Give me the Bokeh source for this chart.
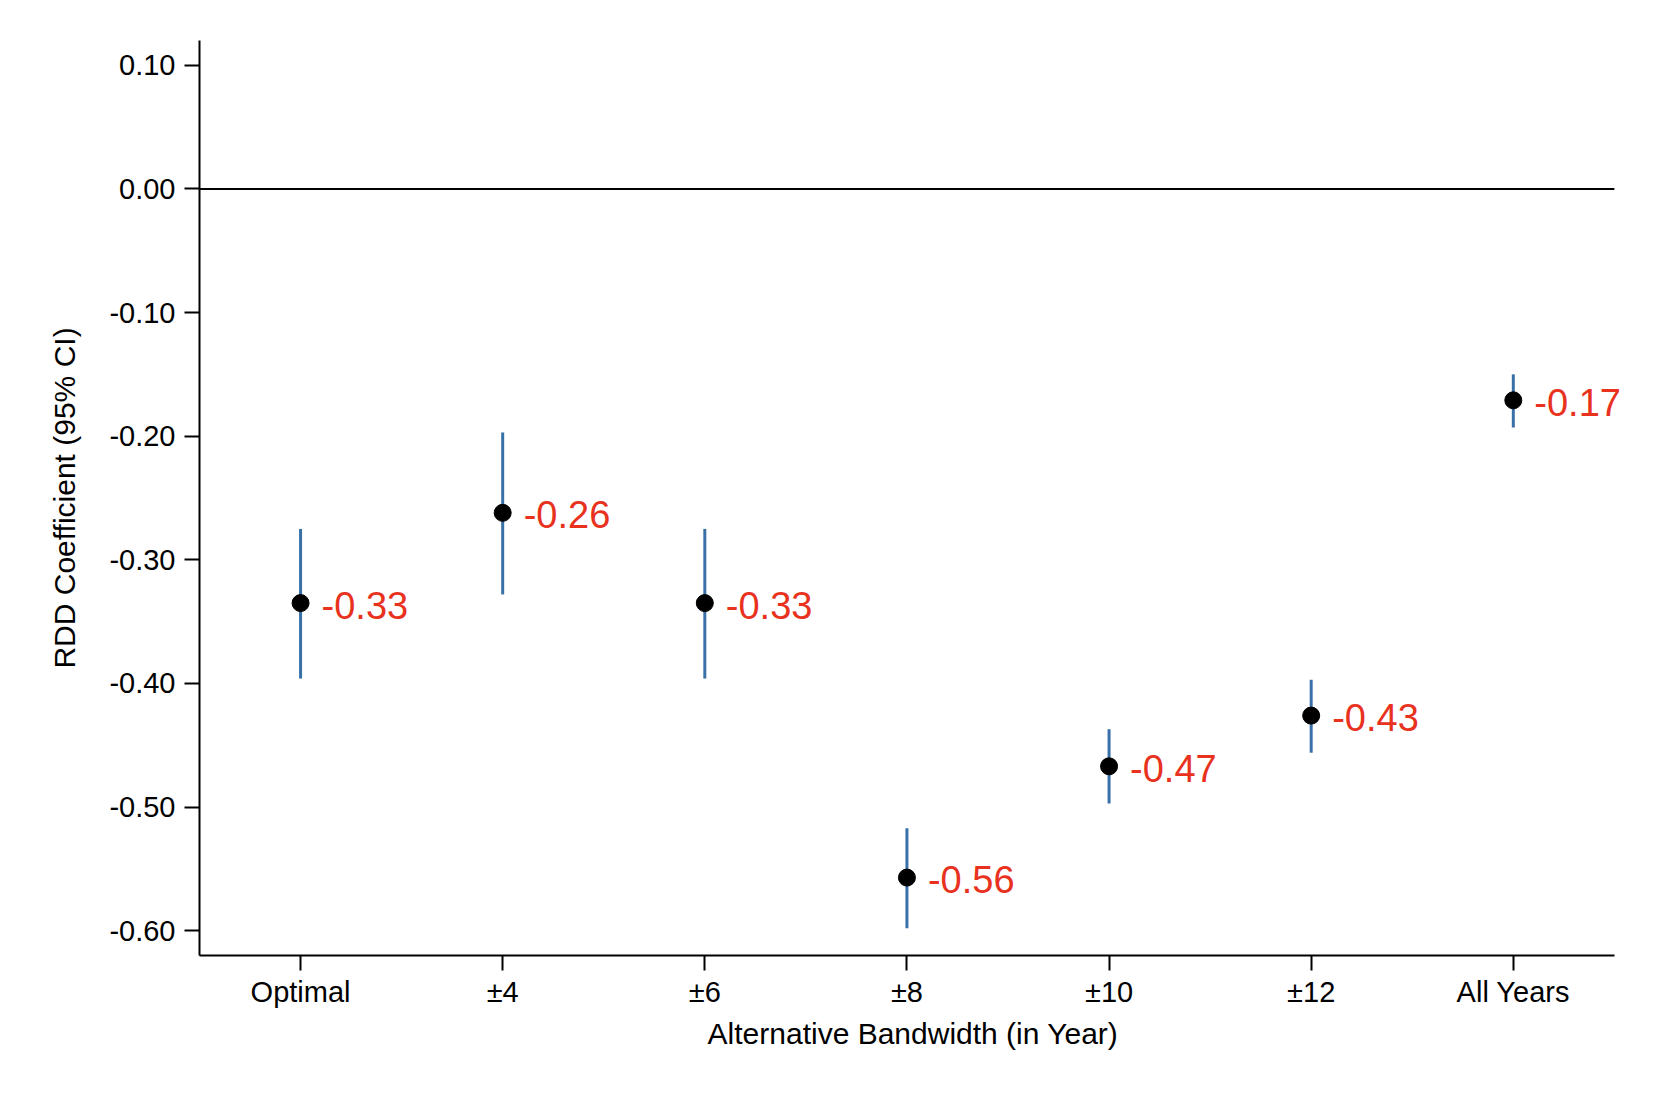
from bokeh.plotting import figure
from bokeh.models import ColumnDataSource, FixedTicker, LabelSet, NumeralTickFormatter
from bokeh.core.properties import value
from bokeh.embed import file_html
from bokeh.resources import INLINE

categories = ["Optimal", "±4", "±6", "±8", "±10", "±12", "All Years"]
coef = [-0.335, -0.262, -0.335, -0.557, -0.467, -0.426, -0.171]
ci_low = [-0.396, -0.328, -0.396, -0.598, -0.497, -0.456, -0.193]
ci_high = [-0.275, -0.197, -0.275, -0.517, -0.437, -0.397, -0.150]
labels = ["-0.33", "-0.26", "-0.33", "-0.56", "-0.47", "-0.43", "-0.17"]
y_ticks = [0.10, 0.0, -0.10, -0.20, -0.30, -0.40, -0.50, -0.60]

xs = list(range(1, len(categories) + 1))
src = ColumnDataSource(dict(x=xs, coef=coef, lo=ci_low, hi=ci_high, lab=labels))

# axis extent (category slots) and a little extra room so the last label is not clipped
X0, X1 = 0.5, len(categories) + 0.5
X1_FRAME = X1 + 0.06

FONT = "Liberation Sans"
W, H = 1636, 1080
FL, FT, FB = 199, 40, 955
px_per_unit = (1614 - FL) / (X1 - X0)
FR = 1614 + int(round((X1_FRAME - X1) * px_per_unit))
p = figure(width=W, height=H, output_backend="svg", toolbar_location=None,
           x_range=(X0, X1_FRAME), y_range=(-0.62, 0.12),
           min_border_left=FL, min_border_top=FT,
           min_border_right=W - FR, min_border_bottom=H - FB)
p.outline_line_color = None
p.xgrid.grid_line_color = None
p.ygrid.grid_line_color = None
p.background_fill_color = "white"
p.border_fill_color = "white"

# zero reference line across the axis extent
p.segment(x0=[X0], y0=[0], x1=[X1], y1=[0], line_color="black", line_width=2)

p.segment(x0="x", y0="lo", x1="x", y1="hi", source=src, line_color="#3a70a8", line_width=3)
p.scatter(x="x", y="coef", source=src, size=17, fill_color="black", line_color="black")

lbl = LabelSet(x="x", y="coef", text="lab", source=src, x_offset=21, y_offset=-2,
               text_baseline="middle", text_align="left", text_color="#e8321e",
               text_font_size="38px", text_font=value(FONT))
p.add_layout(lbl)

p.xaxis.ticker = FixedTicker(ticks=xs)
p.xaxis.major_label_overrides = {x: c for x, c in zip(xs, categories)}
p.xaxis.bounds = (X0, X1)
p.yaxis.ticker = FixedTicker(ticks=y_ticks)
p.yaxis.formatter = NumeralTickFormatter(format="0.00")

for ax in (p.xaxis, p.yaxis):
    ax.axis_line_width = 2
    ax.axis_line_color = "black"
    ax.major_tick_line_width = 2
    ax.major_tick_line_color = "black"
    ax.major_tick_out = 15
    ax.major_tick_in = 0
    ax.minor_tick_line_color = None
    ax.major_label_text_font = FONT
    ax.major_label_text_font_size = "29px"
    ax.major_label_text_color = "black"
    ax.axis_label_text_font = FONT
    ax.axis_label_text_font_size = "30px"
    ax.axis_label_text_font_style = "normal"
    ax.axis_label_text_color = "black"

p.xaxis.major_label_standoff = 5
p.yaxis.major_label_standoff = 9
p.xaxis.axis_label = "Alternative Bandwidth (in Year)"
p.yaxis.axis_label = "RDD Coefficient (95% CI)"
p.xaxis.axis_label_standoff = 6
p.yaxis.axis_label_standoff = 25

open("out.html", "w").write(file_html(p, INLINE))
